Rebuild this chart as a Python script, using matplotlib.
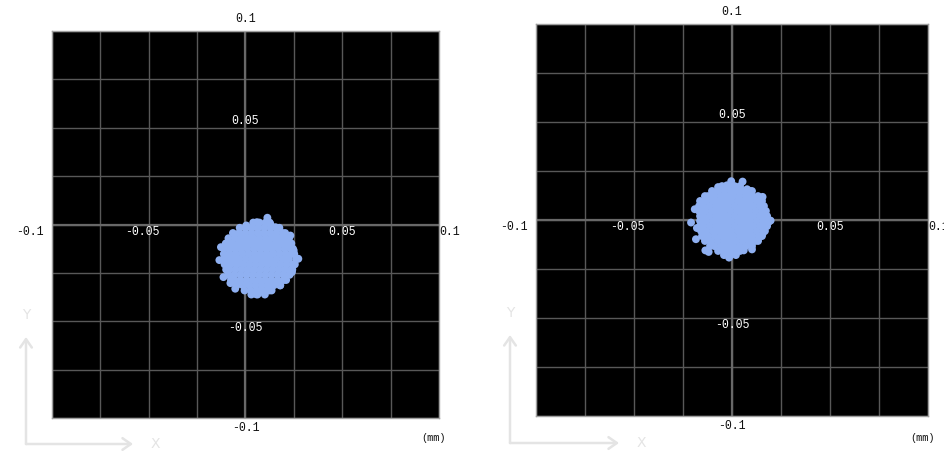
import matplotlib
matplotlib.use("Agg")
import matplotlib.pyplot as plt
from matplotlib.patches import FancyArrowPatch

# ---------------- data ----------------
axis_limits = [-0.1, 0.1]
grid_ticks = [-0.1, -0.075, -0.05, -0.025, 0.0, 0.025, 0.05, 0.075, 0.1]
x_tick_labels = ["-0.1", "-0.05", "0.05", "0.1"]
x_tick_values = [-0.1, -0.05, 0.05, 0.1]
y_tick_labels = ["0.1", "0.05", "-0.05", "-0.1"]
y_tick_values = [0.1, 0.05, -0.05, -0.1]
unit_label = "(mm)"

# Left panel points: rows of (y, [x...]), plus outliers
left_rows_y = [0.0010, -0.0017, -0.0044, -0.0071, -0.0098, -0.0125, -0.0152,
               -0.0179, -0.0206, -0.0233, -0.0260, -0.0287, -0.0314, -0.0341, -0.0362]
left_rows_x = [
    [0.0040, 0.0072, 0.0104, 0.0125],
    [-0.0030, 0.0002, 0.0034, 0.0066, 0.0098, 0.0130, 0.0162, 0.0175],
    [-0.0065, -0.0033, -0.0001, 0.0031, 0.0063, 0.0095, 0.0127, 0.0159, 0.0191, 0.0205],
    [-0.0088, -0.0056, -0.0024, 0.0008, 0.0040, 0.0072, 0.0104, 0.0136, 0.0168, 0.0200, 0.0225],
    [-0.0102, -0.0070, -0.0038, -0.0006, 0.0026, 0.0058, 0.0090, 0.0122, 0.0154, 0.0186, 0.0218, 0.0237],
    [-0.0110, -0.0086, -0.0054, -0.0022, 0.0010, 0.0042, 0.0074, 0.0106, 0.0138, 0.0170, 0.0202, 0.0234, 0.0245],
    [-0.0112, -0.0080, -0.0048, -0.0016, 0.0016, 0.0048, 0.0080, 0.0112, 0.0144, 0.0176, 0.0208, 0.0240, 0.0252],
    [-0.0112, -0.0096, -0.0064, -0.0032, 0.0000, 0.0032, 0.0064, 0.0096, 0.0128, 0.0160, 0.0192, 0.0224, 0.0262],
    [-0.0108, -0.0076, -0.0044, -0.0012, 0.0020, 0.0052, 0.0084, 0.0116, 0.0148, 0.0180, 0.0212, 0.0244, 0.0255],
    [-0.0100, -0.0084, -0.0052, -0.0020, 0.0012, 0.0044, 0.0076, 0.0108, 0.0140, 0.0172, 0.0204, 0.0236, 0.0242],
    [-0.0090, -0.0058, -0.0026, 0.0006, 0.0038, 0.0070, 0.0102, 0.0134, 0.0166, 0.0198, 0.0228],
    [-0.0075, -0.0059, -0.0027, 0.0005, 0.0037, 0.0069, 0.0101, 0.0133, 0.0165, 0.0197, 0.0210],
    [-0.0045, -0.0013, 0.0019, 0.0051, 0.0083, 0.0115, 0.0147, 0.0180],
    [-0.0005, 0.0027, 0.0059, 0.0091, 0.0123, 0.0135],
    [0.0030, 0.0062, 0.0100],
]
left_out_x = [0.0004, 0.0059, 0.0113, 0.0128, 0.0154, 0.0232, -0.0127, -0.0135, -0.0096,
              -0.0114, -0.0078, -0.0053, 0.0056, 0.0111, 0.0179, 0.0240, 0.0273, 0.0249]
left_out_y = [-0.0005, 0.0012, 0.0035, 0.0003, -0.0014, -0.0057, -0.0117, -0.0184, -0.0212,
              -0.0272, -0.0303, -0.0332, -0.0361, -0.0341, -0.0315, -0.0246, -0.0177, -0.0134]

# Right panel points
right_rows_y = [0.0173, 0.0148, 0.0122, 0.0097, 0.0071, 0.0046, 0.0020, -0.0005,
                -0.0031, -0.0056, -0.0082, -0.0107, -0.0133, -0.0158, -0.0179]
right_rows_x = [
    [-0.0051, -0.0019, 0.0013, 0.0041],
    [-0.0102, -0.0070, -0.0038, -0.0006, 0.0026, 0.0058, 0.0090, 0.0102],
    [-0.0138, -0.0122, -0.0090, -0.0058, -0.0026, 0.0006, 0.0038, 0.0070, 0.0102, 0.0133],
    [-0.0163, -0.0131, -0.0099, -0.0067, -0.0035, -0.0003, 0.0029, 0.0061, 0.0093, 0.0125, 0.0153],
    [-0.0168, -0.0147, -0.0115, -0.0083, -0.0051, -0.0019, 0.0013, 0.0045, 0.0077, 0.0109, 0.0141, 0.0163],
    [-0.0168, -0.0136, -0.0104, -0.0072, -0.0040, -0.0008, 0.0024, 0.0056, 0.0088, 0.0120, 0.0152, 0.0173],
    [-0.0163, -0.0147, -0.0115, -0.0083, -0.0051, -0.0019, 0.0013, 0.0045, 0.0077, 0.0109, 0.0141, 0.0173, 0.0179],
    [-0.0163, -0.0131, -0.0099, -0.0067, -0.0035, -0.0003, 0.0029, 0.0061, 0.0093, 0.0125, 0.0157, 0.0184],
    [-0.0163, -0.0147, -0.0115, -0.0083, -0.0051, -0.0019, 0.0013, 0.0045, 0.0077, 0.0109, 0.0141, 0.0173, 0.0179],
    [-0.0158, -0.0131, -0.0099, -0.0067, -0.0035, -0.0003, 0.0029, 0.0061, 0.0093, 0.0125, 0.0157, 0.0168],
    [-0.0153, -0.0121, -0.0089, -0.0057, -0.0025, 0.0007, 0.0039, 0.0071, 0.0103, 0.0135, 0.0153],
    [-0.0138, -0.0106, -0.0074, -0.0042, -0.0010, 0.0022, 0.0054, 0.0086, 0.0118, 0.0133],
    [-0.0112, -0.0090, -0.0058, -0.0026, 0.0006, 0.0038, 0.0070, 0.0102],
    [-0.0071, -0.0042, -0.0010, 0.0022, 0.0041],
    [-0.0041, -0.0010, 0.0020],
]
right_out_x = [-0.0071, -0.0026, -0.0004, 0.0054, 0.0077, 0.0156, -0.0190, -0.0209, -0.0179,
               -0.0184, -0.0136, -0.0119, -0.0015, 0.0060, 0.0102, 0.0156, 0.0187, 0.0197]
right_out_y = [0.0168, 0.0177, 0.0198, 0.0196, 0.0157, 0.0118, 0.0055, -0.0013, -0.0041,
               -0.0098, -0.0155, -0.0163, -0.0192, -0.0155, -0.0150, -0.0070, -0.0010, -0.0003]

# ---------------- styling ----------------
W, H, DPI = 945, 451, 100
POINT_COLOR = "#8fb0f1"
GRID_COLOR = "#585858"
CENTER_COLOR = "#686868"
TEXT_FONT = ["Liberation Mono", "DejaVu Sans Mono"]
FS = 8.3
DARK = "#111111"

fig = plt.figure(figsize=(W / DPI, H / DPI), dpi=DPI)
fig.patch.set_facecolor("white")


def flatten(rows_y, rows_x, out_x, out_y):
    xs, ys = [], []
    for yv, row in zip(rows_y, rows_x):
        for xv in row:
            xs.append(xv)
            ys.append(yv)
    xs += list(out_x)
    ys += list(out_y)
    return xs, ys


def panel(rect, xs, ys, arrow_px, mm_px):
    ax = fig.add_axes(rect)
    ax.set_facecolor("black")
    ax.set_xlim(axis_limits)
    ax.set_ylim(axis_limits)
    for t in grid_ticks:
        ax.axvline(t, color=GRID_COLOR, lw=1.0, zorder=1)
        ax.axhline(t, color=GRID_COLOR, lw=1.0, zorder=1)
    ax.axvline(0, color=CENTER_COLOR, lw=1.6, zorder=1)
    ax.axhline(0, color=CENTER_COLOR, lw=1.6, zorder=1)
    ax.set_xticks([])
    ax.set_yticks([])
    for s in ax.spines.values():
        s.set_color("#a0a0a0")
        s.set_linewidth(1.0)

    ax.scatter(xs, ys, s=32, color=POINT_COLOR, edgecolors="none", zorder=3)

    common = dict(fontsize=FS, family=TEXT_FONT, textcoords="offset points")
    # y labels along the centre line
    for v, lab in zip(y_tick_values, y_tick_labels):
        if v == 0.1:
            ax.annotate(lab, (0, v), xytext=(0, 4), ha="center", va="bottom",
                        color=DARK, annotation_clip=False, **common)
        elif v == -0.1:
            ax.annotate(lab, (0, v), xytext=(0, -3), ha="center", va="top",
                        color=DARK, annotation_clip=False, **common)
        elif v > 0:
            ax.annotate(lab, (0, v), xytext=(0, 0.5), ha="center", va="bottom",
                        color="white", zorder=4, **common)
        else:
            ax.annotate(lab, (0, v), xytext=(0, -0.5), ha="center", va="top",
                        color="white", zorder=4, **common)
    # x labels along the centre line
    for v, lab in zip(x_tick_values, x_tick_labels):
        if v == -0.1:
            ax.annotate(lab, (v, 0), xytext=(-6, -1), ha="right", va="top",
                        color=DARK, annotation_clip=False, **common)
        elif v == 0.1:
            ax.annotate(lab, (v, 0), xytext=(0, -1), ha="left", va="top",
                        color=DARK, annotation_clip=False, zorder=5, **common)
        elif v < 0:
            ax.annotate(lab, (v, 0), xytext=(-4.5, -1), ha="center", va="top",
                        color="white", zorder=4, **common)
        else:
            ax.annotate(lab, (v, 0), xytext=(0, -1), ha="center", va="top",
                        color="white", zorder=4, **common)

    # direction indicator (figure pixel coordinates)
    x0, ytip, ycorner, xtip = arrow_px

    def fp(px, py):
        return (px / W, 1 - py / H)

    arrow_kw = dict(arrowstyle="->,head_length=0.5,head_width=0.35", color="#e4e4e4",
                    lw=1.8, shrinkA=0, shrinkB=0, mutation_scale=12,
                    transform=fig.transFigure)
    fig.add_artist(FancyArrowPatch(fp(x0, ycorner), fp(x0, ytip), **arrow_kw))
    fig.add_artist(FancyArrowPatch(fp(x0, ycorner), fp(xtip, ycorner), **arrow_kw))
    fig.text(*fp(x0, ytip - 22), "Y", ha="center", va="center", color="#e4e4e4",
             fontsize=10, family=["DejaVu Sans"])
    fig.text(*fp(xtip + 22, ycorner), "X", ha="center", va="center", color="#e4e4e4",
             fontsize=10, family=["DejaVu Sans"])
    fig.text(*fp(*mm_px), unit_label, ha="center", va="center", color=DARK,
             fontsize=FS - 1, family=TEXT_FONT)
    return ax


lx, ly = flatten(left_rows_y, left_rows_x, left_out_x, left_out_y)
rx, ry = flatten(right_rows_y, right_rows_x, right_out_x, right_out_y)

panel([52 / W, 1 - 418 / H, 387 / W, 387 / H], lx, ly, (26, 337, 444, 133), (434, 438))
panel([536 / W, 1 - 416 / H, 392 / W, 392 / H], rx, ry, (510, 335, 443, 619), (923, 438))

fig.savefig("out.png", dpi=DPI, facecolor="white")
